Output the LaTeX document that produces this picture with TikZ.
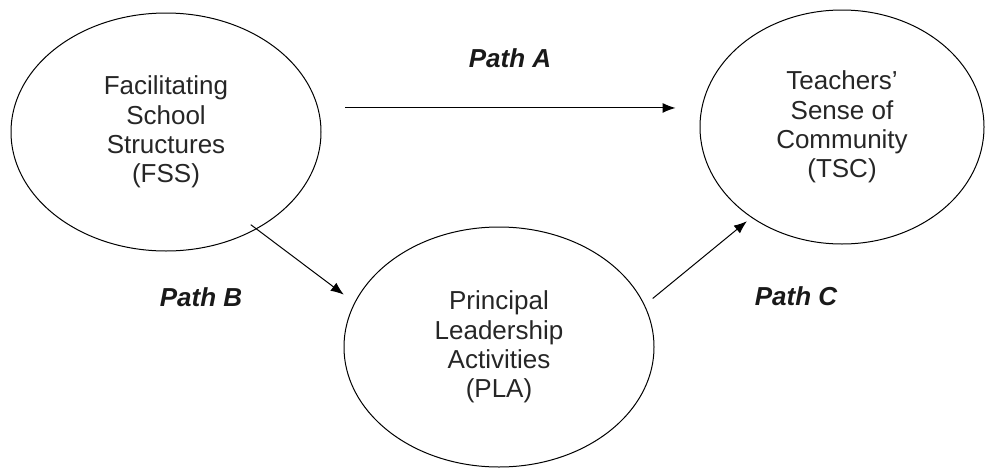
\documentclass[tikz,border=0pt]{standalone}
\usepackage{fontspec}
\setmainfont{Liberation Sans}
\usetikzlibrary{shapes.geometric,arrows.meta}

\begin{document}
\begin{tikzpicture}[x=0.5pt,y=0.5pt,
  var/.style={draw,ellipse,line width=0.5pt,inner sep=0pt,outer sep=0pt,
    align=center,text=black!85,font=\fontsize{13}{14.6}\selectfont},
  link/.style={line width=0.5pt,-{Latex[length=6.5pt,width=5pt]}},
  pathlabel/.style={text=black!90,font=\fontsize{13}{15}\selectfont\bfseries\itshape}]
\useasboundingbox (0,0) rectangle (986,468);
% the three variables
\node[var,minimum width=155pt,minimum height=119pt] (fss) at (166,336) {Facilitating\\School\\Structures\\(FSS)};
\node[var,minimum width=142pt,minimum height=117pt] (tsc) at (842,341) {Teachers'\\Sense of\\Community\\(TSC)};
\node[var,minimum width=155pt,minimum height=120pt] (pla) at (499,121) {Principal\\Leadership\\Activities\\(PLA)};
% paths
\draw[link,shorten <=13.75pt,shorten >=13.5pt] (fss.9.4) -- (fss.9.4 -| tsc.171.9);
\draw[link,shorten <=-3.4pt,shorten >=6.9pt] (fss.-47.4) -- (pla.163.7);
\draw[link,shorten <=5.4pt,shorten >=3.1pt] (pla.16.7) -- (tsc.225.6);
\node[pathlabel] (pa) at (510,410) {Path A};
\node[pathlabel] (pb) at (201,170.5) {Path B};
\node[pathlabel] (pc) at (796,171.5) {Path C};
\end{tikzpicture}
\end{document}
